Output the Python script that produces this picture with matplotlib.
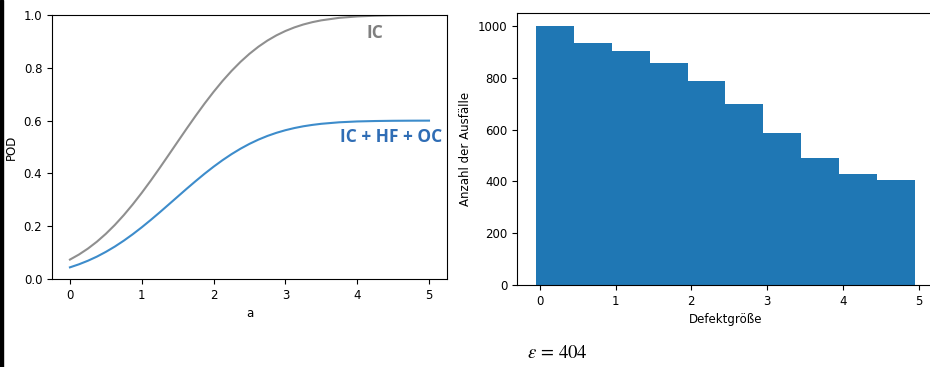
import matplotlib
matplotlib.use("Agg")
import matplotlib.pyplot as plt
from matplotlib.patches import Rectangle

# POD curves (finer steps where the curves bend)
a_values = [0.0, 0.125, 0.25, 0.375, 0.5, 0.625, 0.75, 0.875, 1.0, 1.125,
            1.25, 1.375, 1.5, 1.625, 1.75, 1.875, 2.0, 2.125, 2.25, 2.375,
            2.5, 2.625, 2.75, 2.875, 3.0, 3.125, 3.25, 3.375, 3.5, 3.75,
            4.0, 4.25, 4.5, 4.75, 5.0]
pod_ic = [0.0735, 0.0926, 0.1151, 0.1412, 0.1711, 0.2047, 0.2420, 0.2827,
          0.3264, 0.3726, 0.4207, 0.4701, 0.5199, 0.5695, 0.6179, 0.6646,
          0.7088, 0.7502, 0.7881, 0.8225, 0.8531, 0.8800, 0.9032, 0.9229,
          0.9394, 0.9530, 0.9641, 0.9729, 0.9798, 0.9893, 0.9946, 0.9974,
          0.9989, 0.9995, 0.9998]
pod_all = [0.0441, 0.0556, 0.0691, 0.0847, 0.1027, 0.1228, 0.1452, 0.1696,
           0.1958, 0.2236, 0.2524, 0.2821, 0.3119, 0.3417, 0.3707, 0.3988,
           0.4253, 0.4501, 0.4729, 0.4935, 0.5119, 0.5280, 0.5419, 0.5537,
           0.5636, 0.5718, 0.5785, 0.5837, 0.5879, 0.5936, 0.5968, 0.5984,
           0.5993, 0.5997, 0.5999]

# histogram of failures
bin_edges = [-0.05, 0.45, 0.95, 1.45, 1.95, 2.45, 2.95, 3.45, 3.95, 4.45, 4.95]
counts = [1000, 934, 903, 857, 788, 697, 586, 489, 427, 406]
epsilon = 404

FS = 8.5
plt.rcParams["mathtext.fontset"] = "stix"

fig = plt.figure(figsize=(9.3, 3.67), dpi=100)

# left: POD curves
ax1 = fig.add_axes([0.0559, 0.2398, 0.4247, 0.7193])
ax1.plot(a_values, pod_ic, color="#8f8f8f", linewidth=1.5)
ax1.plot(a_values, pod_all, color="#3d8ccb", linewidth=1.5)
ax1.set_xlim(-0.25, 5.25)
ax1.set_ylim(0, 1.0)
ax1.set_xlabel("a", fontsize=FS)
ax1.set_ylabel("POD", fontsize=FS)
ax1.tick_params(labelsize=FS)
ax1.text(4.25, 0.93, "IC", color="#7f7f7f", fontsize=12.5, fontweight="bold",
         family="Open Sans", ha="center", va="center")
ax1.text(5.19, 0.538, "IC + HF + OC", color="#2f6db5", fontsize=12.5,
         fontweight="bold", family="Open Sans", ha="right", va="center")

# right: histogram
ax2 = fig.add_axes([0.5559, 0.2234, 0.4484, 0.7411])
widths = [bin_edges[i + 1] - bin_edges[i] for i in range(len(counts))]
ax2.bar(bin_edges[:-1], counts, width=widths, align="edge", color="#1f77b4")
ax2.set_xlim(-0.3, 5.2)
ax2.set_ylim(0, 1050)
ax2.set_xlabel("Defektgröße", fontsize=FS)
ax2.set_ylabel("Anzahl der Ausfälle", fontsize=FS)
ax2.tick_params(labelsize=FS)

fig.text(527 / 930, 1 - 353 / 367, r"$\varepsilon\, =\, %d$" % epsilon,
         fontsize=13.5, va="center", ha="left")

# dark strip at the left edge of the screenshot
fig.patches.append(Rectangle((0, 0), 3 / 930, 1, transform=fig.transFigure,
                             color="black", zorder=10))

fig.savefig("out.png", dpi=100)
